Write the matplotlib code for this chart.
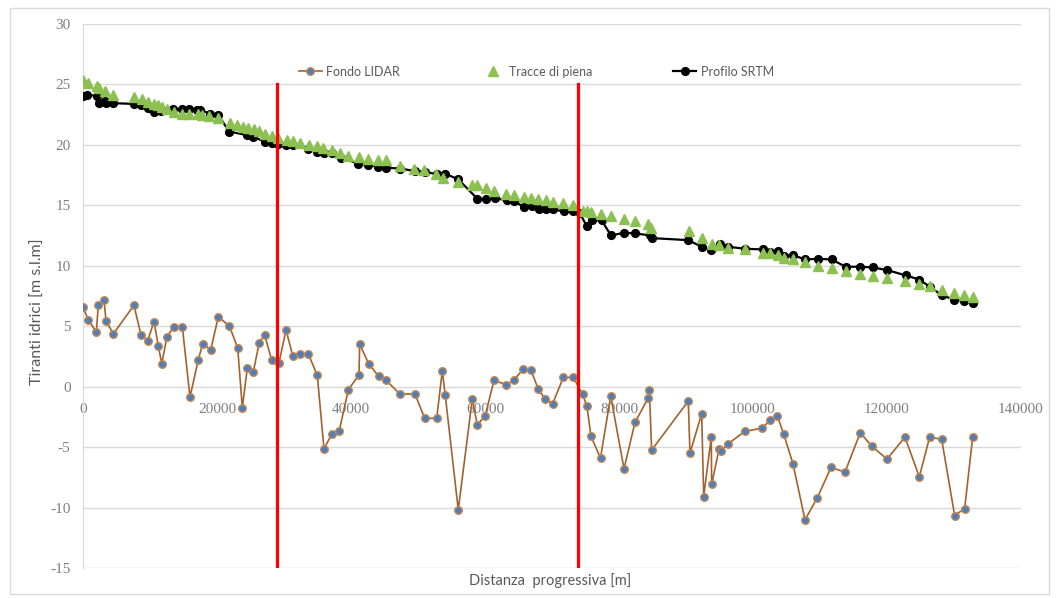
import matplotlib
matplotlib.use("Agg")
import matplotlib.pyplot as plt
from matplotlib.patches import Rectangle

# --- Fondo LIDAR: progressive distance [m] and bed elevation [m s.l.m]
lidar_dist = [0, 790, 1990, 2280, 3130, 3430, 4520, 7610, 8660, 9660, 10600, 11240,
              11750, 12540, 13580, 14820, 15970, 17210, 17870, 19060, 20190, 21840,
              23090, 23780, 24520, 25420, 26310, 27120, 28160, 29250, 30300, 31300,
              32390, 33630, 34970, 35970, 37120, 38250, 39600, 41190, 41300, 42640,
              44130, 45180, 47310, 49550, 51000, 52790, 53630, 54070, 56010, 58100,
              58850, 60040, 61340, 63180, 64330, 65720, 66870, 67960, 68960, 70100,
              71690, 73180, 74580, 75220, 75820, 77240, 78760, 80750, 82390, 84370,
              84530, 84870, 90340, 90590, 92340, 92640, 93770, 93830, 94930, 95180,
              96310, 98760, 101390, 102580, 103620, 104580, 105970, 107760, 109590,
              111640, 113730, 116010, 117760, 120000, 122680, 124820, 126370, 128160,
              130100, 131590, 132790]
lidar_elev = [6.55, 5.55, 4.5, 6.74, 7.18, 5.47, 4.36, 6.74, 4.25, 3.81, 5.39, 3.37,
              1.9, 4.14, 4.97, 4.97, -0.86, 2.24, 3.56, 3.04, 5.77, 5.03,
              3.2, -1.74, 1.52, 1.24, 3.65, 4.28, 2.18, 1.96, 4.69, 2.57,
              2.73, 2.71, 0.94, -5.16, -3.92, -3.65, -0.25, 0.97, 3.5, 1.9,
              0.86, 0.55, -0.61, -0.61, -2.62, -2.62, 1.33, -0.72, -10.19, -1.02,
              -3.15, -2.4, 0.52, 0.17, 0.55, 1.46, 1.35, -0.22, -1.02, -1.41,
              0.77, 0.77, -0.64, -1.63, -4.12, -5.9, -0.77, -6.79, -2.95, -0.94,
              -0.28, -5.25, -1.19, -5.5, -2.24, -9.09, -4.17, -8.09, -5.16, -5.33,
              -4.72, -3.7, -3.42, -2.76, -2.4, -3.92, -6.38, -11.02, -9.2,
              -6.68, -7.07, -3.81, -4.94, -5.99, -4.17, -7.46, -4.17, -4.36,
              -10.66, -10.08, -4.17]

# --- Tracce di piena: flood marks
tracce_dist = [0, 790, 2040, 2430, 3280, 4520, 7660, 8760, 9750, 10600, 11240, 11750,
               12490, 13630, 14820, 15870, 17120, 17720, 18850, 20100, 21940, 23030,
               23840, 24670, 25520, 26310, 27160, 28160, 29150, 30400, 31390, 32390,
               33780, 34970, 35860, 37120, 38360, 39600, 41190, 42580, 43980, 45180,
               47310, 49450, 50940, 52640, 53780, 56010, 58010, 58850, 60100, 61390,
               63130, 64330, 65820, 66860, 67960, 69060, 70100, 71690, 73180, 74580,
               75180, 75820, 77310, 78760, 80790, 82390, 84370, 84730, 90490, 92340,
               93830, 94970, 96220, 98800, 101440, 102530, 103680, 104620, 105920,
               107760, 109740, 111740, 113830, 115970, 117860, 120040, 122680, 124820,
               126420, 128160, 130000, 131490, 132790]
tracce_elev = [25.35, 25.16, 24.83, 24.69, 24.42, 24.14, 23.97, 23.78, 23.55, 23.36,
               23.28, 23.17, 23.0, 22.76, 22.54, 22.54, 22.54, 22.48, 22.4, 22.2,
               21.85, 21.62, 21.52, 21.43, 21.35, 21.13, 20.94, 20.74, 20.6, 20.38,
               20.3, 20.19, 20.03, 19.91, 19.78, 19.58, 19.36, 19.08, 19.0, 18.86,
               18.75, 18.75, 18.25, 17.98, 17.9, 17.56, 17.29, 16.93, 16.65, 16.65,
               16.46, 16.18, 15.97, 15.85, 15.68, 15.63, 15.55, 15.44, 15.27, 15.16,
               14.99, 14.56, 14.5, 14.44, 14.27, 14.11, 13.84, 13.7, 13.42, 13.15,
               12.87, 12.32, 11.82, 11.76, 11.49, 11.35, 11.08, 11.02, 10.88, 10.66,
               10.52, 10.3, 10.02, 9.83, 9.55, 9.36, 9.14, 8.95, 8.72, 8.51,
               8.31, 7.98, 7.76, 7.56, 7.4]

# --- Profilo SRTM
srtm_dist = [0, 640, 2040, 2340, 3280, 3430, 4520, 7610, 8610, 9660, 10600, 11640,
             13480, 14730, 15870, 16970, 17460, 18950, 20190, 21840, 24430, 25420,
             27160, 28160, 29150, 30300, 31390, 33630, 34970, 36010, 37120, 38510,
             41090, 42580, 44070, 45180, 47310, 49550, 51040, 52790, 54030, 56010,
             58850, 60150, 61490, 63240, 64370, 65820, 66970, 68100, 69100, 70190,
             71790, 73180, 74180, 75180, 75920, 77420, 78800, 80790, 82430, 84620,
             84870, 90340, 92340, 93730, 95070, 96310, 98800, 101440, 102530, 103680,
             104620, 106010, 107760, 109740, 111740, 113830, 115970, 117860, 120040,
             122830, 124820, 126420, 128160, 130000, 131490, 132790]
srtm_elev = [24.05, 24.14, 24.05, 23.5, 23.64, 23.45, 23.45, 23.39, 23.28, 23.09,
             22.76, 22.81, 22.95, 22.95, 22.95, 22.89, 22.89, 22.59, 22.45, 21.1,
             20.82, 20.69, 20.24, 20.13, 20.05, 20.0, 19.97, 19.64, 19.41, 19.36,
             19.3, 18.95, 18.45, 18.34, 18.2, 18.12, 18.04, 17.84, 17.79, 17.56,
             17.62, 17.15, 15.55, 15.49, 15.58, 15.44, 15.33, 14.86, 14.94, 14.66,
             14.66, 14.66, 14.5, 14.5, 14.33, 13.28, 13.78, 13.75, 12.51, 12.73,
             12.68, 12.51, 12.29, 12.12, 11.57, 11.27, 11.82, 11.57, 11.41, 11.35,
             11.13, 11.21, 10.8, 10.88, 10.52, 10.58, 10.52, 9.92, 9.92, 9.86,
             9.64, 9.2, 8.86, 8.26, 7.56, 7.21, 7.07, 6.93]

# Section boundaries (vertical red markers)
section_dist = [28900, 73900]
section_range = [-15, 25]

x_ticks = [0, 20000, 40000, 60000, 80000, 100000, 120000, 140000]
y_ticks = [-15, -10, -5, 0, 5, 10, 15, 20, 25, 30]

W, H = 1057, 598
fig = plt.figure(figsize=(W / 100, H / 100), dpi=100)
ax = fig.add_axes([83 / W, 1 - 568 / H, (1021 - 83) / W, (568 - 24) / H])

grid_c = "#D9D9D9"
text_c = "#595959"
tick_c = "#7F7F7F"

ax.plot(lidar_dist, lidar_elev, color="#A3622C", lw=1.2, marker="o", ms=5.4,
        mfc="#4F7FBA", mec="#C0844F", mew=1.0, label="Fondo LIDAR", zorder=3)
ax.plot(tracce_dist, tracce_elev, ls="none", marker="^", ms=6.5, color="#8CC152",
        mec="#8CC152", label="Tracce di piena", zorder=5)
ax.plot(srtm_dist, srtm_elev, color="black", lw=1.6, marker="o", ms=5.6,
        label="Profilo SRTM", zorder=4)
for d in section_dist:
    ax.plot([d, d], section_range, color="#FF0000", lw=2.3, zorder=6)

ax.set_xlim(0, 140000)
ax.set_ylim(-15, 30)
ax.set_xticks(x_ticks)
ax.set_yticks(y_ticks)
ax.set_xticklabels([str(t) for t in x_ticks])
ax.set_yticklabels([str(t) for t in y_ticks])

ax.grid(axis="y", color=grid_c, lw=1.0, zorder=0)
ax.set_axisbelow(True)
for s in ["top", "right"]:
    ax.spines[s].set_visible(False)
ax.spines["left"].set_color(grid_c)
ax.spines["bottom"].set_position(("data", 0))
ax.spines["bottom"].set_visible(False)

serif = ["Liberation Serif", "DejaVu Serif"]
ax.tick_params(axis="both", length=0, labelcolor=tick_c, labelsize=11)
ax.tick_params(axis="y", pad=9)
ax.tick_params(axis="x", pad=12)
for lab in ax.get_xticklabels() + ax.get_yticklabels():
    lab.set_family(serif)

sans = ["Lato", "DejaVu Sans"]
ax.set_ylabel("Tiranti idrici [m s.l.m]", family=sans, fontsize=11.5, color=text_c)
ax.yaxis.set_label_coords(-0.041, 0.472)
ax.set_xlabel("Distanza  progressiva [m]", family=sans, fontsize=10.5, color=text_c)
ax.xaxis.set_label_coords(0.4975, -0.01)

leg = ax.legend(loc="center left", bbox_to_anchor=(0.218, 0.912), ncol=3,
                frameon=False, handlelength=1.85, handletextpad=0.35,
                columnspacing=6.5, prop={"family": sans, "size": 9})
for t in leg.get_texts():
    t.set_color(text_c)

fig.patches.append(Rectangle((10 / W, 1 - 594 / H), (1049 - 10) / W, (594 - 8) / H,
                             transform=fig.transFigure, fill=False,
                             edgecolor="#D9D9D9", lw=1.0))

fig.savefig("out.png", dpi=100)
